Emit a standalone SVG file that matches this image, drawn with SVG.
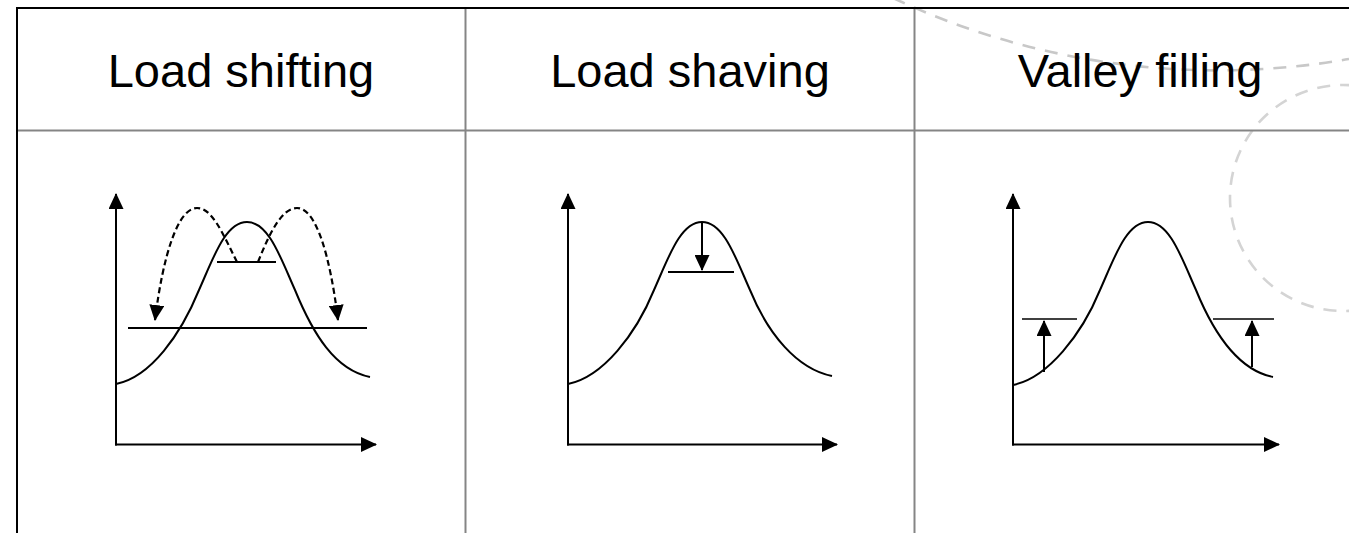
<svg xmlns="http://www.w3.org/2000/svg" width="1349" height="533" viewBox="0 0 1349 533">
  <style>
    .bg { fill: none; stroke-width: 2.6; stroke-dasharray: 13 10; }
    .border { stroke: #000; stroke-width: 2; fill: none; }
    .grid { stroke: #858585; stroke-width: 2; fill: none; }
    .hdr { font-family: "Liberation Sans", Arial, sans-serif; font-size: 47px; fill: #000; text-anchor: middle; }
    .axis { stroke: #000; stroke-width: 2; fill: none; }
    .curve { stroke: #000; stroke-width: 2; fill: none; }
    .lvl { stroke: #000; stroke-width: 2; fill: none; }
    .lvl-thin { stroke: #000; stroke-width: 1.5; fill: none; }
    .dash { stroke: #000; stroke-width: 2.2; fill: none; stroke-dasharray: 6 3.5; }
    .arr { stroke: #000; stroke-width: 2; fill: none; }
  </style>
  <defs>
    <marker id="ah" viewBox="0 0 16 15" markerWidth="16" markerHeight="15" refX="15" refY="7.5" orient="auto" markerUnits="userSpaceOnUse">
      <path d="M0,0 L16,7.5 L0,15 Z" fill="#000"/>
    </marker>
  </defs>
  <rect x="0" y="0" width="1349" height="533" fill="#fff"/>

  <g id="background">
    <path class="bg" stroke="#c8c8c8" d="M893,-2 A765,765 0 0 0 1349,59"/>
    <circle class="bg" stroke="#d4d4d4" cx="1343" cy="198" r="113"/>
  </g>

  <g id="table">
    <line class="grid" x1="17" y1="130.5" x2="1349" y2="130.5"/>
    <line class="grid" x1="465.5" y1="8" x2="465.5" y2="533"/>
    <line class="grid" x1="914.5" y1="8" x2="914.5" y2="533"/>
    <line class="border" x1="16" y1="8" x2="1349" y2="8"/>
    <line class="border" x1="17" y1="7" x2="17" y2="533"/>
  </g>

  <g id="header-load-shifting"><text class="hdr" x="241" y="87">Load shifting</text></g>
  <g id="header-load-shaving"><text class="hdr" x="690" y="87">Load shaving</text></g>
  <g id="header-valley-filling"><text class="hdr" x="1140" y="87">Valley filling</text></g>

  <g id="chart-load-shifting">
    <line class="axis" x1="115" y1="444.5" x2="376" y2="444.5" marker-end="url(#ah)"/>
    <line class="axis" x1="116" y1="445.5" x2="116" y2="194" marker-end="url(#ah)"/>
    <path class="curve" d="M116,384 C151,377 181,334 199,290 C213,259 225,222 247,222 C269,222 281,259 295,290 C313,334 335,370 370,377"/>
    <line class="lvl" x1="128" y1="328" x2="367" y2="328"/>
    <line class="lvl" x1="217" y1="262" x2="276" y2="262"/>
  </g>

  <g id="chart-load-shaving">
    <line class="axis" x1="567" y1="444.5" x2="837" y2="444.5" marker-end="url(#ah)"/>
    <line class="axis" x1="568" y1="445.5" x2="568" y2="194" marker-end="url(#ah)"/>
    <path class="curve" d="M568,384 C603,377 636,334 654,290 C668,259 680,222 702,222 C724,222 736,259 750,290 C768,334 797,369 832,376"/>
    <line class="lvl" x1="668" y1="272" x2="734" y2="272"/>
  </g>

  <g id="chart-valley-filling">
    <line class="axis" x1="1012" y1="444.5" x2="1279" y2="444.5" marker-end="url(#ah)"/>
    <line class="axis" x1="1013" y1="445.5" x2="1013" y2="194" marker-end="url(#ah)"/>
    <path class="curve" d="M1013,385 C1048,378 1082,334 1100,290 C1114,259 1126,222 1148,222 C1170,222 1182,259 1196,290 C1214,334 1238,370 1273,377"/>
    <line class="lvl-thin" x1="1022" y1="319" x2="1077" y2="319"/>
    <line class="lvl-thin" x1="1213" y1="319" x2="1274" y2="319"/>
  </g>

  <g id="connectors">
    <path class="dash" d="M237,262 C222,232 212,208 197,208 C178,208 163,255 155,320" marker-end="url(#ah)"/>
    <path class="dash" d="M258,262 C270,232 282,208 297,208 C316,208 330,255 338,320" marker-end="url(#ah)"/>
    <line class="arr" x1="702" y1="222" x2="702" y2="270" marker-end="url(#ah)"/>
    <line class="arr" x1="1044" y1="372" x2="1044" y2="321" marker-end="url(#ah)"/>
    <line class="arr" x1="1252" y1="367" x2="1252" y2="321" marker-end="url(#ah)"/>
  </g>
</svg>
